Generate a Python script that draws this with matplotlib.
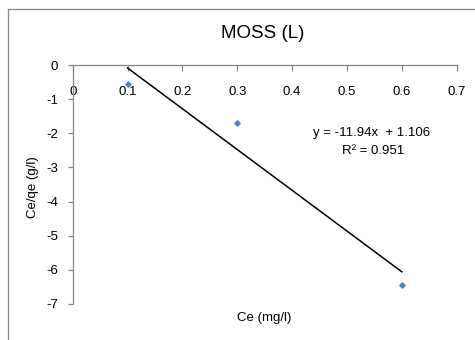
import matplotlib
matplotlib.use("Agg")
import matplotlib.pyplot as plt
import numpy as np
from matplotlib.lines import Line2D

plt.rcParams['font.family'] = ['Liberation Sans', 'DejaVu Sans']

ce = [0.1, 0.3, 0.6]
ce_qe = [-0.55, -1.7, -6.45]
slope = -11.94
intercept = 1.106
r2 = 0.951
x_ticks = [0, 0.1, 0.2, 0.3, 0.4, 0.5, 0.6, 0.7]
y_ticks = [0, -1, -2, -3, -4, -5, -6, -7]

fig = plt.figure(figsize=(4.75, 3.4), dpi=100)
ax = fig.add_axes([72.7/475, 1-304/340, (456.7-72.7)/475, (304-65)/340])

gray = '#868686'
ax.scatter(ce, ce_qe, marker='D', s=7, color='#4F81BD', zorder=3)
xf = np.array([min(ce), max(ce)])
ax.plot(xf, slope*xf + intercept, color='black', lw=1.1)

ax.set_xlim(0, 0.7)
ax.set_ylim(-7, 0)
ax.set_xticks(x_ticks)
ax.set_xticklabels([f"{t:g}" for t in x_ticks])
ax.set_yticks(y_ticks)
ax.set_yticklabels([f"{t:g}" for t in y_ticks])
for s in ['top', 'right']:
    ax.spines[s].set_visible(False)
ax.spines['bottom'].set_position(('data', 0))
for s in ['bottom', 'left']:
    ax.spines[s].set_color(gray)
    ax.spines[s].set_linewidth(0.9)
ax.tick_params(axis='x', direction='out', length=4, width=0.9, color=gray, pad=11, labelsize=9.5)
ax.tick_params(axis='y', direction='out', length=3.5, width=0.9, color=gray, pad=7, labelsize=9.5)

fig.text(263/475, 1-33/340, 'MOSS (L)', ha='center', va='center', fontsize=13.5)
fig.text(33/475, 1-187/340, 'Ce/qe (g/l)', ha='center', va='center', rotation=90, fontsize=9.5)
fig.text(264/475, 1-318/340, 'Ce (mg/l)', ha='center', va='center', fontsize=9.5)
fig.text(372/475, 1-133/340, f'y = {slope}x  + {intercept}', ha='center', va='center', fontsize=9.5)
fig.text(373/475, 1-151/340, f'R² = {r2}', ha='center', va='center', fontsize=9.5)

fig.add_artist(Line2D([8/475, 8/475], [0, 1-9/340], color=gray, lw=0.9, transform=fig.transFigure))
fig.add_artist(Line2D([8/475, 1], [1-9/340, 1-9/340], color=gray, lw=0.9, transform=fig.transFigure))

fig.savefig('out.png', dpi=100)
